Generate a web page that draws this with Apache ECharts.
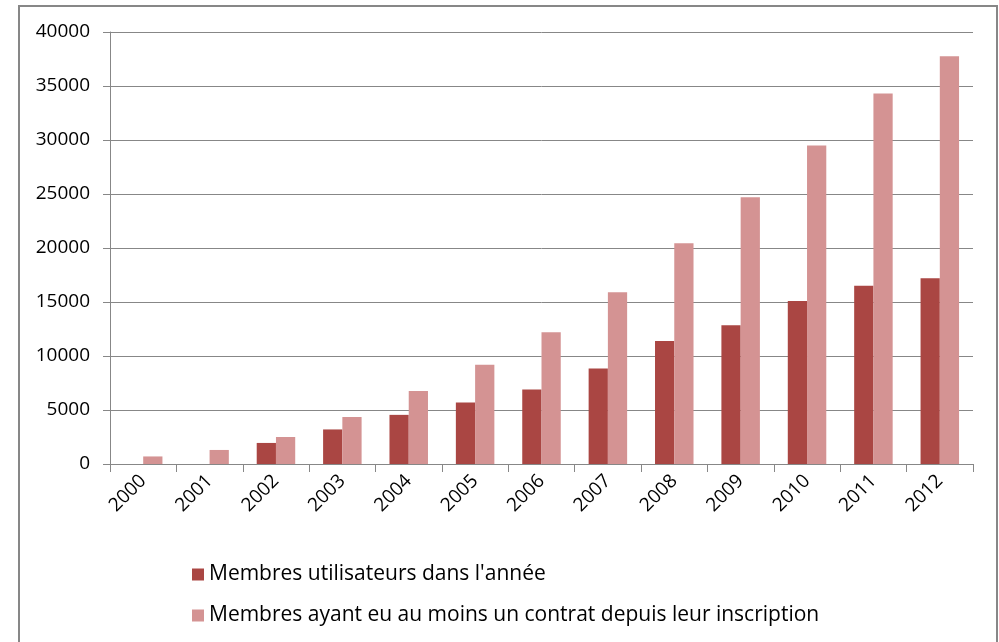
<!DOCTYPE html>
<html>
<head>
<meta charset="utf-8">
<script src="https://cdn.jsdelivr.net/npm/echarts@6/dist/echarts.min.js"></script>
<style>
body{margin:0;background:#fff;}
#chart{position:absolute;left:0;top:0;width:999px;height:642px;}
#frame{position:absolute;left:18px;top:5px;width:976px;height:660px;border:2px solid #878787;pointer-events:none;}
</style>
</head>
<body>
<div id="chart"></div>
<div id="frame"></div>
<script>
var years = ['2000','2001','2002','2003','2004','2005','2006','2007','2008','2009','2010','2011','2012'];
var utilisateurs = [0, 0, 1950, 3200, 4550, 5700, 6900, 8850, 11400, 12850, 15100, 16500, 17200];
var contrats = [700, 1300, 2500, 4350, 6750, 9200, 12200, 15900, 20450, 24700, 29500, 34300, 37750];
var yTicks = [0, 5000, 10000, 15000, 20000, 25000, 30000, 35000, 40000];

var chart = echarts.init(document.getElementById('chart'));
chart.setOption({
  animation:false,
  textStyle:{fontFamily:'Open Sans'},
  grid:{left:110,right:26,top:32,bottom:178},
  legend:{
    orient:'vertical',left:187,top:559,itemGap:20,
    itemWidth:12,itemHeight:12,icon:'rect',
    textStyle:{fontSize:21,color:'#000',fontFamily:'Open Sans'},
    data:['Membres utilisateurs dans l\'année','Membres ayant eu au moins un contrat depuis leur inscription']
  },
  xAxis:{
    type:'category',data:years,
    axisLine:{lineStyle:{color:'#878787'}},
    axisTick:{show:true,length:8,lineStyle:{color:'#878787'}},
    axisLabel:{rotate:45,margin:14,fontSize:19,color:'#000'}
  },
  yAxis:{
    type:'value',min:yTicks[0],max:yTicks[yTicks.length-1],interval:5000,
    axisLine:{show:true,lineStyle:{color:'#878787'}},
    axisTick:{show:true,length:7,lineStyle:{color:'#878787'}},
    splitLine:{lineStyle:{color:'#878787'}},
    axisLabel:{margin:20,fontSize:19,color:'#000',formatter:function(v){return String(v);}}
  },
  series:[
    {name:'Membres utilisateurs dans l\'année',type:'bar',data:utilisateurs,
     itemStyle:{color:'#AA4643'},barGap:'0%',barCategoryGap:'42%'},
    {name:'Membres ayant eu au moins un contrat depuis leur inscription',type:'bar',data:contrats,
     itemStyle:{color:'#D49393'},barGap:'0%',barCategoryGap:'42%'}
  ]
});
</script>
</body>
</html>
